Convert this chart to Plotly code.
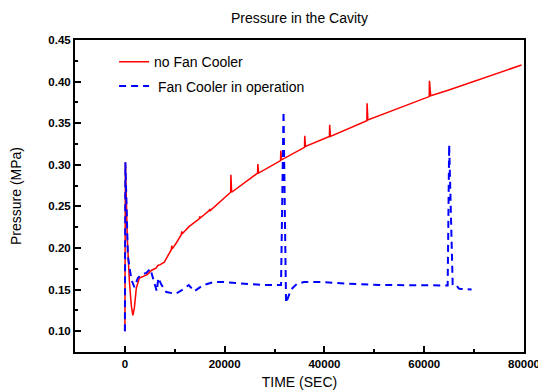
import plotly.graph_objects as go

# ---- data ----
red_name = "no Fan Cooler"
blue_name = "\u00a0Fan Cooler in operation"

red_t = [0, 100, 500, 900, 1300, 1600, 1900, 2300, 2900, 3900, 4500, 5300, 6300, 6600,
         7100, 7900, 8600, 9300, 9400, 9500, 10300, 11300, 11400, 11500, 12900, 14900,
         15000, 15100, 16900, 17000, 17100, 21200, 21250, 21400, 26600, 26650, 26800,
         31200, 31250, 31400, 36000, 36050, 36200, 41000, 41050, 41200, 48500, 48550,
         48700, 61000, 61050, 61300, 64500, 79500]
red_p = [0.100, 0.303, 0.210, 0.160, 0.130, 0.119, 0.128, 0.152, 0.164, 0.167, 0.168, 0.173,
         0.176, 0.179, 0.180, 0.183, 0.190, 0.198, 0.203, 0.199, 0.206, 0.216, 0.220, 0.217,
         0.226, 0.235, 0.238, 0.236, 0.245, 0.247, 0.245, 0.267, 0.288, 0.267, 0.290, 0.301,
         0.290, 0.305, 0.317, 0.306, 0.321, 0.335, 0.322, 0.334, 0.348, 0.334, 0.353, 0.374,
         0.354, 0.382, 0.401, 0.383, 0.389, 0.420]

blue_t = [0, 100, 600, 1300, 1900, 2600, 3300, 4300, 5100, 5600, 6400, 6700, 7300, 8300,
          10100, 11100, 12800, 13900, 15600, 17700, 19800, 24000, 28200, 31300, 31800,
          32300, 33300, 34500, 35900, 40000, 44900, 51900, 58800, 64700, 65000, 65700,
          66000, 67000, 69500]
blue_p = [0.100, 0.303, 0.190, 0.162, 0.153, 0.164, 0.168, 0.170, 0.175, 0.164, 0.148, 0.164,
          0.156, 0.147, 0.145, 0.148, 0.1555, 0.148, 0.155, 0.159, 0.159, 0.157, 0.1555,
          0.1555, 0.364, 0.134, 0.150, 0.157, 0.159, 0.159, 0.157, 0.1555, 0.155, 0.155,
          0.324, 0.157, 0.158, 0.151, 0.150]

title_text = "Pressure in the Cavity"
x_title = "TIME (SEC)"
y_title = "Pressure (MPa)"

FONT = "Arial, 'Liberation Sans', sans-serif"
W, H = 538, 384

fig = go.Figure()
fig.add_trace(go.Scatter(x=red_t, y=red_p, mode="lines", name=red_name,
                         legendgroup="a",
                         line=dict(color="#ff0000", width=1.5)))
fig.add_trace(go.Scatter(x=blue_t, y=blue_p, mode="lines", name=blue_name,
                         legendgroup="b",
                         line=dict(color="#0000ff", width=2, dash="7px,5px")))

axis_common = dict(
    showgrid=False, zeroline=False, automargin=False,
    showline=True, linecolor="black", linewidth=2, mirror=True,
    ticks="inside", ticklen=6, tickwidth=1.5, tickcolor="black",
    tickfont=dict(family=FONT, size=11.5, color="black", weight="bold"),
    title_font=dict(family=FONT, size=14, color="black"),
)

fig.update_xaxes(range=[-10000, 80000], dtick=20000, tick0=0, tickformat="d",
                 minor=dict(dtick=10000, ticks="inside", ticklen=3, tickwidth=1.5,
                            tickcolor="black", showgrid=False),
                 title_text=x_title, title_standoff=8, **axis_common)
fig.update_yaxes(range=[0.075, 0.45], dtick=0.05, tick0=0, tickformat=".2f",
                 minor=dict(dtick=0.025, ticks="inside", ticklen=3, tickwidth=1.5,
                            tickcolor="black", showgrid=False),
                 title_text=y_title, title_standoff=23, **axis_common)

fig.update_layout(
    width=W, height=H,
    margin=dict(l=67, r=22, t=32, b=40),
    paper_bgcolor="white", plot_bgcolor="white",
    font=dict(family=FONT, color="black"),
    title=dict(text=title_text, x=0.5, xref="paper", y=1 - 10 / H,
               yref="container", yanchor="middle", xanchor="center",
               font=dict(family=FONT, size=14, color="black")),
    legend=dict(x=0.087, y=0.98, xanchor="left", yanchor="top",
                bgcolor="rgba(0,0,0,0)", borderwidth=0,
                font=dict(family=FONT, size=14, color="black"),
                traceorder="grouped", tracegroupgap=3),
    showlegend=True,
)

fig.write_html("out.html")
